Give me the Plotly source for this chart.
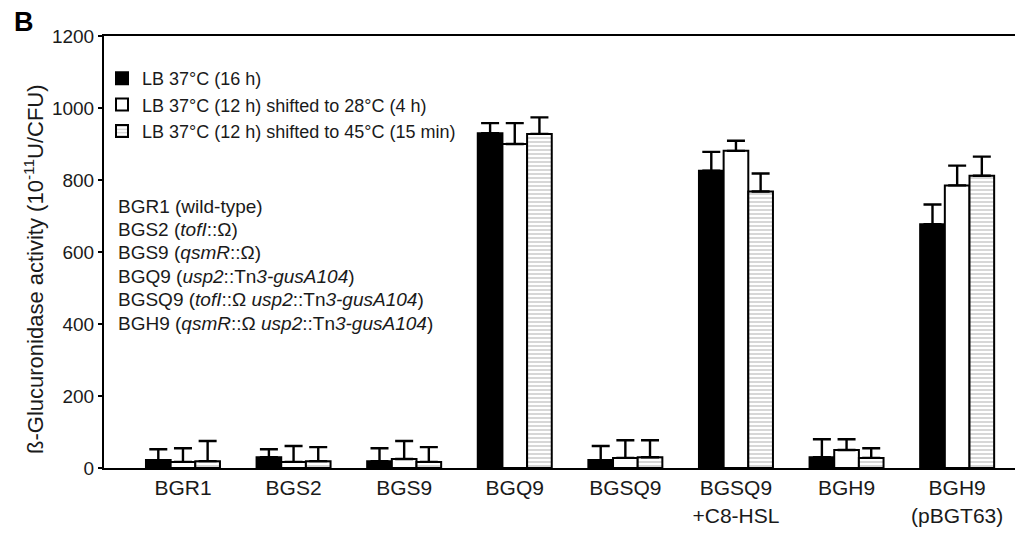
import plotly.graph_objects as go

# Strains on the x axis
strains = ["BGR1", "BGS2", "BGS9", "BGQ9", "BGSQ9",
           "BGSQ9<br>+C8-HSL", "BGH9", "BGH9<br>(pBGT63)"]

# Culture conditions (legend entries)
conditions = ["LB 37°C (16 h)",
              "LB 37°C (12 h) shifted to 28°C (4 h)",
              "LB 37°C (12 h) shifted to 45°C (15 min)"]

# β-glucuronidase activity (10^-11 U/CFU), mean values
act_16h = [22, 30, 19, 930, 22, 826, 30, 677]
act_28c = [17, 17, 25, 900, 28, 881, 50, 785]
act_45c = [19, 19, 17, 928, 30, 768, 28, 812]

# Upper error (SD)
err_16h = [30, 22, 36, 28, 39, 52, 50, 55]
err_28c = [38, 44, 50, 58, 49, 28, 30, 55]
err_45c = [56, 39, 41, 46, 47, 50, 27, 53]

# Strain descriptions shown inside the plot
strain_notes = [
    "BGR1 (wild-type)",
    "BGS2 (<i>tofI</i>::Ω)",
    "BGS9 (<i>qsmR</i>::Ω)",
    "BGQ9 (<i>usp2</i>::Tn<i>3-gusA104</i>)",
    "BGSQ9 (<i>tofI</i>::Ω <i>usp2</i>::Tn<i>3-gusA104</i>)",
    "BGH9 (<i>qsmR</i>::Ω <i>usp2</i>::Tn<i>3-gusA104</i>)",
]

FONT = "Liberation Sans, Arial, sans-serif"
TXT = "#1a1a1a"

W, H = 1015, 535
ML, MR, MT, MB = 104, 0, 36, 67
PW, PH = W - ML - MR, H - MT - MB


def px_x(px):
    """Figure pixel column -> paper x."""
    return (px - ML) / PW


def px_y(py):
    """Figure pixel row -> paper y."""
    return (H - MB - py) / PH


series = [
    (conditions[0], act_16h, err_16h, dict(color="black")),
    (conditions[1], act_28c, err_28c, dict(color="white")),
    (conditions[2], act_45c, err_45c,
     dict(color="white",
          pattern=dict(shape="-", fgcolor="#8c8c8c", bgcolor="white",
                       size=4, solidity=0.35))),
]

fig = go.Figure()
for name, vals, errs, mk in series:
    fig.add_trace(go.Bar(
        name=name, x=strains, y=vals,
        marker=dict(line=dict(color="black", width=2), **mk),
        error_y=dict(type="data", array=errs, arrayminus=[0] * len(errs),
                     symmetric=False, color="black", thickness=2.4, width=9),
    ))

fig.update_layout(
    width=W, height=H,
    margin=dict(l=ML, r=MR, t=MT, b=MB),
    paper_bgcolor="white", plot_bgcolor="white",
    barmode="group", bargap=0.331, bargroupgap=0,
    font=dict(family=FONT, color=TXT, size=19),
    showlegend=True,
    legend=dict(x=px_x(102), y=px_y(60), xanchor="left", yanchor="top",
                bgcolor="rgba(0,0,0,0)", font=dict(size=18, color=TXT),
                tracegroupgap=0, itemclick=False),
    xaxis=dict(range=[-0.714, 7.523], showline=True, linecolor="black",
               linewidth=2, mirror=True, ticks="", showgrid=False,
               tickfont=dict(size=21, color=TXT), zeroline=False),
    yaxis=dict(range=[0, 1200], tickvals=[0, 200, 400, 600, 800, 1000, 1200],
               showline=True, linecolor="black", linewidth=2, mirror=False,
               ticks="outside", ticklen=4, tickwidth=1.5, tickcolor="black",
               showgrid=False, zeroline=False,
               tickfont=dict(size=19, color=TXT)),
)

# Y-axis title
fig.add_annotation(
    xref="paper", yref="paper", x=px_x(34), y=px_y(269),
    xanchor="center", yanchor="middle", showarrow=False, textangle=-90,
    text="ß-Glucuronidase activity (10<sup>-11</sup>U/CFU)",
    font=dict(size=22, color=TXT),
)

# Strain key, one line each
for i, line in enumerate(strain_notes):
    fig.add_annotation(
        xref="paper", yref="paper", x=px_x(116), y=px_y(206 + 23.4 * i),
        xanchor="left", yanchor="middle", align="left", showarrow=False,
        text=line, font=dict(size=19, color=TXT),
    )

# Panel letter
fig.add_annotation(
    xref="paper", yref="paper", x=px_x(12), y=px_y(22),
    xanchor="left", yanchor="middle", showarrow=False,
    text="<b>B</b>", font=dict(size=27, color="black"),
)

fig.write_html("out.html")
